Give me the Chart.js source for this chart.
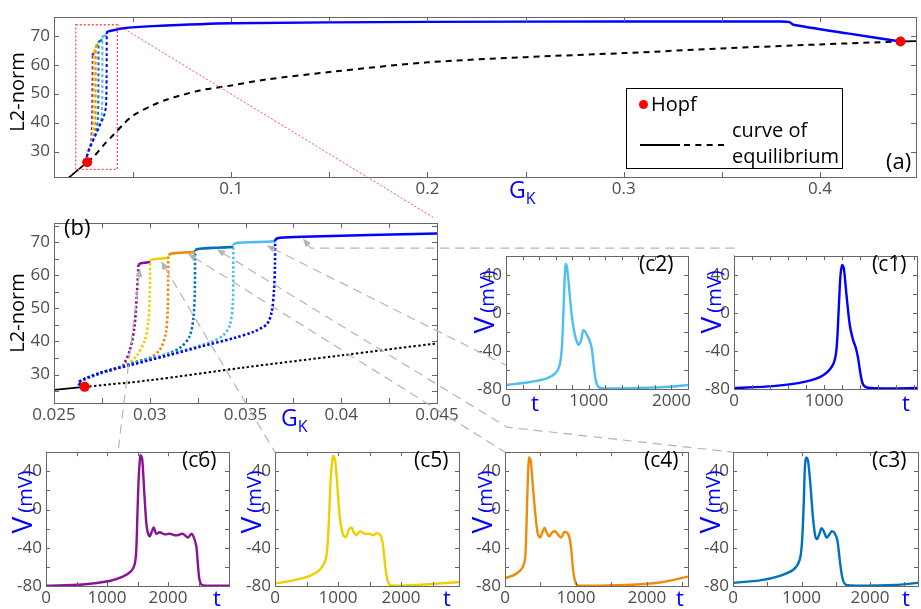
<!DOCTYPE html>
<html>
<head>
<meta charset="utf-8">
<script src="https://cdn.jsdelivr.net/npm/chart.js@4.4.1/dist/chart.umd.min.js"></script>
<style>
body { margin: 0; width: 921px; height: 609px; position: relative; overflow: hidden; background: #fff; font-family: "Open Sans", sans-serif; }
canvas.pn { position: absolute; }
#over { position: absolute; left: 0; top: 0; pointer-events: none; }
.lbl { position: absolute; white-space: nowrap; line-height: 1; color: #000; }
.rot { position: absolute; white-space: nowrap; line-height: 1; transform: translate(-50%, -50%) rotate(-90deg); }
.blue { color: #0000ff; }
.sub { font-size: 16px; position: relative; top: 6px; }
#legend { position: absolute; left: 626px; top: 88px; width: 215px; height: 79px; border: 1px solid #000; background: #fff; }
</style>
</head>
<body>

<!-- (a) / (b) branch data: GK vs L2-norm -->
<script>
const eqSolidGK = [0.0172, 0.0250, 0.0266];
const eqSolidL2 = [21.0, 25.4, 26.3];
const eqDashGK = [0.0266, 0.030, 0.035, 0.040, 0.045, 0.050, 0.060, 0.067, 0.084, 0.100, 0.118, 0.152, 0.200, 0.250, 0.300, 0.350, 0.400, 0.441];
const eqDashL2 = [26.3, 28.3, 32.2, 35.8, 39.4, 42.4, 46.0, 47.9, 51.1, 52.8, 54.9, 57.6, 60.8, 62.6, 64.0, 65.6, 67.0, 68.0];
const eqTailGK = [0.441, 0.452];
const eqTailL2 = [68.0, 68.2];
const hopfGK = [0.0266, 0.441];
const hopfL2 = [26.3, 68.0];

const puDotGK = [0.0266, 0.02627, 0.0274, 0.0283, 0.02862, 0.02897, 0.02920, 0.02932, 0.02940, 0.02941];
const puDotL2 = [26.3, 27.6, 30.4, 32.0, 32.9, 37.6, 44.3, 53.8, 61.5, 63.2];
const puSolGK = [0.02941, 0.02955, 0.0298, 0.03002];
const puSolL2 = [63.2, 63.6, 63.8, 64.0];

const yeDotGK = [0.0266, 0.02627, 0.0274, 0.0283, 0.0288, 0.02932, 0.02975, 0.02993, 0.03000, 0.03002];
const yeDotL2 = [26.3, 27.6, 30.4, 32.0, 33.0, 35.7, 40.5, 46.2, 53.8, 64.4];
const yeSolGK = [0.03002, 0.0302, 0.0306, 0.03097];
const yeSolL2 = [64.4, 64.8, 65.0, 65.2];

const orDotGK = [0.0266, 0.02627, 0.0274, 0.02914, 0.03002, 0.03054, 0.03084, 0.03094, 0.03096, 0.03097];
const orDotL2 = [26.3, 27.6, 30.3, 33.6, 35.2, 37.6, 42.4, 50.0, 58.6, 66.2];
const orSolGK = [0.03097, 0.0312, 0.0320, 0.03237];
const orSolL2 = [66.2, 66.6, 66.9, 67.0];

const dbDotGK = [0.0266, 0.02627, 0.0274, 0.02949, 0.03089, 0.03158, 0.03207, 0.03228, 0.03235, 0.03237];
const dbDotL2 = [26.3, 27.6, 30.3, 34.1, 36.2, 38.1, 41.4, 47.1, 54.8, 67.6];
const dbSolGK = [0.03237, 0.0326, 0.0335, 0.03437];
const dbSolL2 = [67.6, 68.0, 68.3, 68.5];

const lbDotGK = [0.0266, 0.02627, 0.0274, 0.03019, 0.03193, 0.03315, 0.03385, 0.03420, 0.03434, 0.03436, 0.03437];
const lbDotL2 = [26.3, 27.6, 30.3, 35.0, 37.6, 39.8, 41.9, 45.2, 51.9, 60.5, 69.4];
const lbSolGK = [0.03437, 0.0346, 0.0355, 0.03655];
const lbSolL2 = [69.4, 69.8, 70.0, 70.2];

const buDotGK = [0.0266, 0.02627, 0.02740, 0.02914, 0.03089, 0.03263, 0.03437, 0.03541, 0.03611, 0.03637, 0.03649, 0.03654, 0.03655];
const buDotL2 = [26.3, 27.6, 30.5, 33.1, 35.7, 38.4, 41.0, 42.9, 45.2, 49.0, 55.7, 63.3, 70.9];
const buSolGK = [0.03655, 0.0368, 0.0380, 0.045, 0.060, 0.100, 0.200, 0.300, 0.380, 0.3845, 0.3864, 0.414, 0.441];
const buSolL2 = [70.9, 71.3, 71.6, 72.6, 73.3, 74.3, 74.8, 74.9, 74.9, 74.7, 73.8, 70.8, 68.0];

// (c1)..(c6) voltage traces
const c1T = [0, 435, 805, 989, 1100, 1137, 1163, 1181, 1200, 1218, 1247, 1284, 1321, 1351, 1377, 1403, 1432, 1487, 1727, 2030];
const c1V = [-79.0, -77.0, -72.0, -65.5, -54.0, -38.0, 7.0, 39.4, 50.6, 47.4, 20.0, -12.3, -28.4, -36.5, -47.7, -63.9, -75.2, -78.7, -79.4, -79.0];
const c2T = [0, 293, 494, 594, 646, 674, 694, 711, 723, 739, 763, 795, 835, 875, 903, 935, 963, 1007, 1035, 1055, 1084, 1116, 1176, 1618, 2019, 2200];
const c2V = [-75.8, -72.6, -68.7, -63.9, -55.8, -38.0, 0.6, 39.4, 51.6, 47.4, 26.5, -2.6, -23.5, -33.2, -30.0, -18.0, -20.3, -28.4, -36.5, -51.0, -70.3, -77.7, -79.4, -79.0, -77.4, -75.8];
const c3T = [0, 393, 687, 884, 972, 1006, 1031, 1051, 1070, 1095, 1129, 1168, 1203, 1227, 1262, 1291, 1325, 1365, 1399, 1438, 1483, 1522, 1556, 1595, 1645, 1865, 2356, 2700];
const c3V = [-76.7, -74.1, -69.3, -62.8, -53.0, -35.1, 3.9, 46.2, 54.3, 51.0, 26.7, -9.1, -28.6, -30.9, -25.4, -19.5, -22.8, -29.3, -27.0, -22.8, -24.7, -31.9, -51.4, -70.9, -78.7, -79.7, -79.0, -76.7];
const c4T = [0, 151, 245, 283, 302, 321, 340, 363, 387, 425, 462, 495, 528, 557, 585, 623, 670, 708, 745, 788, 835, 868, 906, 934, 962, 1000, 1047, 1707, 2179, 2580];
const c4V = [-71.9, -67.6, -61.1, -51.4, -18.9, 29.9, 54.3, 51.0, 29.9, -2.6, -25.4, -29.3, -23.7, -18.9, -23.7, -28.0, -23.7, -22.8, -26.0, -29.3, -23.7, -23.7, -28.6, -41.6, -64.4, -77.4, -79.7, -79.0, -76.4, -70.2];
const c5T = [0, 290, 554, 713, 792, 829, 861, 887, 924, 956, 987, 1030, 1083, 1125, 1177, 1214, 1251, 1294, 1347, 1426, 1505, 1558, 1611, 1663, 1690, 1716, 1753, 1795, 1848, 2244, 2920];
const c5V = [-77.4, -74.1, -69.3, -62.8, -54.6, -41.6, -2.6, 36.4, 56.0, 51.0, 26.7, -9.1, -27.0, -28.6, -20.5, -18.9, -23.7, -27.0, -22.8, -25.4, -25.4, -27.0, -24.7, -26.0, -29.3, -38.4, -61.1, -75.8, -79.3, -79.0, -75.8];
const c6T = [0, 602, 1040, 1259, 1396, 1451, 1478, 1500, 1522, 1549, 1577, 1615, 1653, 1697, 1741, 1768, 1807, 1861, 1943, 2026, 2135, 2245, 2327, 2381, 2420, 2464, 2491, 2518, 2562, 2792, 3000];
const c6V = [-79.7, -78.4, -74.8, -70.2, -64.4, -57.9, -44.9, -2.6, 36.4, 56.6, 52.7, 13.7, -18.9, -28.0, -22.1, -18.9, -25.4, -23.7, -26.0, -25.4, -27.0, -25.4, -29.3, -25.4, -28.6, -38.4, -57.9, -74.1, -79.0, -79.7, -79.7];
</script>

<canvas class="pn" id="ca"></canvas>
<canvas class="pn" id="cb"></canvas>
<canvas class="pn" id="cc1"></canvas>
<canvas class="pn" id="cc2"></canvas>
<canvas class="pn" id="cc3"></canvas>
<canvas class="pn" id="cc4"></canvas>
<canvas class="pn" id="cc5"></canvas>
<canvas class="pn" id="cc6"></canvas>
<canvas id="over" width="921" height="609"></canvas>

<!-- text -->
<div class="rot" style="left:17px;top:92px;font-size:20px">L2-norm</div>
<div class="lbl blue" style="left:509px;top:178px;font-size:23px">G<span class="sub">K</span></div>
<div class="lbl" style="left:886px;top:149px;font-size:22px">(a)</div>
<div id="legend">
  <div style="position:absolute;left:12px;top:11px;width:9px;height:9px;border-radius:50%;background:#ff0000"></div>
  <div class="lbl" style="left:24px;top:5px;font-size:20px">Hopf</div>
  <div style="position:absolute;left:13px;top:55px;width:40px;border-top:2px solid #000"></div>
  <div style="position:absolute;left:57px;top:55px;width:40px;border-top:2px dashed #000"></div>
  <div class="lbl" style="left:105px;top:31px;font-size:20px">curve of</div>
  <div class="lbl" style="left:105px;top:57px;font-size:20px">equilibrium</div>
</div>

<div class="rot" style="left:17px;top:313px;font-size:20px">L2-norm</div>
<div class="lbl" style="left:64px;top:215px;font-size:22px">(b)</div>
<div class="lbl blue" style="left:281px;top:406px;font-size:23px">G<span class="sub">K</span></div>

<div class="lbl" style="left:639px;top:253px;font-size:21px">(c2)</div>
<div class="lbl" style="left:872px;top:253px;font-size:21px">(c1)</div>
<div class="lbl" style="left:182px;top:449px;font-size:21px">(c6)</div>
<div class="lbl" style="left:414px;top:449px;font-size:21px">(c5)</div>
<div class="lbl" style="left:644px;top:449px;font-size:21px">(c4)</div>
<div class="lbl" style="left:872px;top:449px;font-size:21px">(c3)</div>

<div class="rot blue" style="left:483px;top:302px"><span style="font-size:28px">V</span> <span style="font-size:20px">(mV)</span></div>
<div class="rot blue" style="left:710px;top:302px"><span style="font-size:28px">V</span> <span style="font-size:20px">(mV)</span></div>
<div class="rot blue" style="left:21px;top:502px"><span style="font-size:28px">V</span> <span style="font-size:20px">(mV)</span></div>
<div class="rot blue" style="left:250px;top:502px"><span style="font-size:28px">V</span> <span style="font-size:20px">(mV)</span></div>
<div class="rot blue" style="left:481px;top:502px"><span style="font-size:28px">V</span> <span style="font-size:20px">(mV)</span></div>
<div class="rot blue" style="left:709px;top:502px"><span style="font-size:28px">V</span> <span style="font-size:20px">(mV)</span></div>

<div class="lbl blue" style="left:531px;top:391px;font-size:22px">t</div>
<div class="lbl blue" style="left:902px;top:391px;font-size:22px">t</div>
<div class="lbl blue" style="left:213px;top:586px;font-size:22px">t</div>
<div class="lbl blue" style="left:443px;top:586px;font-size:22px">t</div>
<div class="lbl blue" style="left:676px;top:586px;font-size:22px">t</div>
<div class="lbl blue" style="left:902px;top:586px;font-size:22px">t</div>

<script>
const BLUE = '#0000ff', LBLUE = '#4dbeee', DBLUE = '#0072bd', ORANGE = '#ee8c0a', YELLOW = '#ecd000', PURPLE = '#8b1297';
const FONT = '"Open Sans", sans-serif';

const boxPlugin = {
    id: 'box',
    afterDatasetsDraw(chart, args, opts) {
        const ctx = chart.ctx, a = chart.chartArea, x = chart.scales.x, y = chart.scales.y;
        const tl = opts.len || 5;
        ctx.save();
        ctx.strokeStyle = '#666';
        ctx.lineWidth = 1;
        ctx.beginPath();
        x.ticks.forEach(t => {
            const p = Math.round(x.getPixelForValue(t.value)) + 0.5;
            ctx.moveTo(p, a.bottom); ctx.lineTo(p, a.bottom - tl);
            ctx.moveTo(p, a.top); ctx.lineTo(p, a.top + tl);
        });
        y.ticks.forEach(t => {
            const p = Math.round(y.getPixelForValue(t.value)) + 0.5;
            ctx.moveTo(a.left, p); ctx.lineTo(a.left + tl, p);
            ctx.moveTo(a.right, p); ctx.lineTo(a.right - tl, p);
        });
        ctx.stroke();
        ctx.strokeRect(Math.round(a.left) + 0.5, Math.round(a.top) + 0.5, Math.round(a.right - a.left), Math.round(a.bottom - a.top));
        ctx.restore();
    }
};

function stepTicks(a, b, step) {
    let out = [];
    for (let k = Math.ceil(a / step - 1e-9); k * step <= b + 1e-9; k++) out.push(+(k * step).toFixed(6));
    return out;
}

function line(xs, ys, color, width, dash, tension) {
    return {
        data: xs.map((v, i) => ({ x: v, y: ys[i] })),
        showLine: true, borderColor: color, borderWidth: width, borderDash: dash || [],
        pointRadius: 0, tension: tension || 0, fill: false
    };
}

// rect = plot area in page pixels [left, top, right, bottom]
function panel(id, rect, s) {
    const cv = document.getElementById(id);
    const yW = s.yW, xH = s.xH, pt = 4, pr = s.pr || 6;
    cv.width = rect[2] - rect[0] + yW + pr;
    cv.height = rect[3] - rect[1] + pt + xH;
    cv.style.left = (rect[0] - yW) + 'px';
    cv.style.top = (rect[1] - pt) + 'px';
    const tickFont = { family: FONT, size: 17 };
    return new Chart(cv, {
        type: 'scatter',
        data: { datasets: s.datasets },
        options: {
            responsive: false, animation: false, events: [],
            layout: { padding: { left: 0, top: pt, right: pr, bottom: 0 } },
            plugins: { legend: { display: false }, tooltip: { enabled: false }, box: { len: s.tl || 5 } },
            scales: {
                x: {
                    type: 'linear', min: s.xr[0], max: s.xr[1],
                    afterBuildTicks: sc => { sc.ticks = s.xt.map(v => ({ value: v })); },
                    afterFit: sc => { sc.height = xH; },
                    grid: { display: false, drawTicks: false }, border: { display: false },
                    ticks: { callback: v => s.xl(v), font: tickFont, color: '#4d4d4d', padding: 2, maxRotation: 0, autoSkip: false }
                },
                y: {
                    type: 'linear', min: s.yr[0], max: s.yr[1],
                    afterBuildTicks: sc => { sc.ticks = s.yt.map(v => ({ value: v })); },
                    afterFit: sc => { sc.width = yW; },
                    grid: { display: false, drawTicks: false }, border: { display: false },
                    ticks: { callback: v => s.yl(v), font: tickFont, color: '#4d4d4d', padding: 4, autoSkip: false }
                }
            }
        },
        plugins: [boxPlugin]
    });
}

function branchSets(dotDash, dotW, solW, eqDash) {
    const hopf = {
        data: hopfGK.map((v, i) => ({ x: v, y: hopfL2[i] })), showLine: false,
        pointRadius: 5, pointBackgroundColor: '#ff0000', pointBorderWidth: 0
    };
    return [
        hopf,
        line(buSolGK, buSolL2, BLUE, solW, [], 0.2),
        line(buDotGK, buDotL2, BLUE, dotW, dotDash, 0.3),
        line(lbSolGK, lbSolL2, LBLUE, solW, [], 0.3),
        line(lbDotGK, lbDotL2, LBLUE, dotW, dotDash, 0.3),
        line(dbSolGK, dbSolL2, DBLUE, solW, [], 0.3),
        line(dbDotGK, dbDotL2, DBLUE, dotW, dotDash, 0.3),
        line(orSolGK, orSolL2, ORANGE, solW, [], 0.3),
        line(orDotGK, orDotL2, ORANGE, dotW, dotDash, 0.3),
        line(yeSolGK, yeSolL2, YELLOW, solW, [], 0.3),
        line(yeDotGK, yeDotL2, YELLOW, dotW, dotDash, 0.3),
        line(puSolGK, puSolL2, PURPLE, solW, [], 0.3),
        line(puDotGK, puDotL2, PURPLE, dotW, dotDash, 0.3),
        line(eqSolidGK, eqSolidL2, '#000', 1.8, [], 0),
        line(eqDashGK, eqDashL2, '#000', 2, eqDash, 0.3),
        line(eqTailGK, eqTailL2, '#000', 1.8, [], 0)
    ];
}

const chartA = panel('ca', [54, 7, 918, 177], {
    yW: 50, xH: 26, pr: 3,
    xr: [0.0097, 0.4489], yr: [21.2, 76.4],
    xt: stepTicks(0.05, 0.4489, 0.05), yt: [30, 40, 50, 60, 70],
    xl: v => ([0.1, 0.2, 0.3, 0.4].some(t => Math.abs(t - v) < 1e-6) ? String(v) : ''),
    yl: v => String(v),
    datasets: branchSets([3, 2.5], 2, 2.4, [6, 5])
});

const chartB = panel('cb', [54, 213, 437, 403], {
    yW: 50, xH: 26, pr: 30,
    xr: [0.025, 0.045], yr: [21.43, 75.7],
    xt: stepTicks(0.025, 0.045, 0.0025), yt: stepTicks(25, 75, 5),
    xl: v => (Math.abs(v / 0.005 - Math.round(v / 0.005)) < 1e-6 ? String(+v.toFixed(4)) : ''),
    yl: v => (v % 10 === 0 ? String(v) : ''),
    datasets: branchSets([2.4, 2.2], 2.6, 2.6, [2.4, 2.4])
});

function vPanel(id, rect, tMax, tStep, tLabels, ts, vs, color) {
    return panel(id, rect, {
        yW: 42, xH: 24, pr: 14, tl: 4,
        xr: [0, tMax], yr: [-80, 60],
        xt: stepTicks(0, tMax, tStep), yt: stepTicks(-80, 60, 20),
        xl: v => (tLabels.indexOf(v) >= 0 ? String(v) : ''),
        yl: v => (v % 40 === 0 ? String(v) : ''),
        datasets: [line(ts, vs, color, 2.4, [], 0.3)]
    });
}

const chartC1 = vPanel('cc1', [734, 246, 917, 389], 2030, 200, [0, 1000], c1T, c1V, BLUE);
const chartC2 = vPanel('cc2', [506, 246, 688, 389], 2200, 200, [0, 1000, 2000], c2T, c2V, LBLUE);
const chartC3 = vPanel('cc3', [733, 442, 918, 586], 2700, 500, [0, 1000, 2000], c3T, c3V, DBLUE);
const chartC4 = vPanel('cc4', [505, 442, 688, 586], 2580, 500, [0, 1000, 2000], c4T, c4V, ORANGE);
const chartC5 = vPanel('cc5', [275, 442, 459, 586], 2920, 500, [0, 1000, 2000], c5T, c5V, YELLOW);
const chartC6 = vPanel('cc6', [46, 442, 229, 586], 3000, 500, [0, 1000, 2000], c6T, c6V, PURPLE);

// ---- overlay: zoom box and connectors, positioned from the charts' own scales
function P(chart, gx, gy) {
    return [chart.canvas.offsetLeft + chart.scales.x.getPixelForValue(gx), chart.canvas.offsetTop + chart.scales.y.getPixelForValue(gy)];
}
function corner(chart, which) {
    const a = chart.chartArea, ox = chart.canvas.offsetLeft, oy = chart.canvas.offsetTop;
    if (which === 'tr') return [ox + a.right, oy + a.top];
    return [ox + a.left, oy + a.top];
}

const oc = document.getElementById('over').getContext('2d');

// red zoom box in (a)
const z1 = P(chartA, 0.0208, 73.8), z2 = P(chartA, 0.042, 23.8);
oc.save();
oc.strokeStyle = '#ff5050';
oc.lineWidth = 1.3;
oc.setLineDash([2, 2]);
oc.strokeRect(z1[0], z1[1], z2[0] - z1[0], z2[1] - z1[1]);
const bTR = corner(chartB, 'tr');
oc.beginPath();
oc.moveTo(z2[0], z1[1]);
oc.lineTo(bTR[0] - 4, bTR[1] - 6);
oc.lineWidth = 1;
oc.stroke();
oc.restore();

function connector(pts) {
    const tip = pts[0], nx = pts[1];
    const ang = Math.atan2(tip[1] - nx[1], tip[0] - nx[0]);
    oc.save();
    oc.strokeStyle = '#b4b4b4';
    oc.fillStyle = '#b4b4b4';
    oc.lineWidth = 1.2;
    oc.setLineDash([9, 6]);
    oc.beginPath();
    oc.moveTo(tip[0] - 7 * Math.cos(ang), tip[1] - 7 * Math.sin(ang));
    for (let i = 1; i < pts.length; i++) oc.lineTo(pts[i][0], pts[i][1]);
    oc.stroke();
    oc.setLineDash([]);
    oc.beginPath();
    oc.moveTo(tip[0], tip[1]);
    oc.lineTo(tip[0] - 9 * Math.cos(ang - 0.38), tip[1] - 9 * Math.sin(ang - 0.38));
    oc.lineTo(tip[0] - 9 * Math.cos(ang + 0.38), tip[1] - 9 * Math.sin(ang + 0.38));
    oc.closePath();
    oc.fill();
    oc.restore();
}

// c1
(function () {
    const tip = P(chartB, 0.0380, 71.1), c = corner(chartC1);
    connector([tip, [tip[0] + 8, c[1] - 8], [c[0], c[1] - 8], c]);
})();
// c2
connector([P(chartB, 0.0361, 69.0), P(chartC2, 0, -55)]);
// c3
(function () {
    const tip = P(chartB, 0.0335, 67.8), c = corner(chartC3), c4 = corner(chartC4);
    connector([tip, [c4[0] + 2, c[1] - 25], c]);
})();
// c4
connector([P(chartB, 0.0320, 66.5), corner(chartC4)]);
// c5
connector([P(chartB, 0.0306, 64.2), corner(chartC5)]);
// c6
connector([P(chartB, 0.02949, 62.0), P(chartC6, 1180, 60)]);
</script>
</body>
</html>
